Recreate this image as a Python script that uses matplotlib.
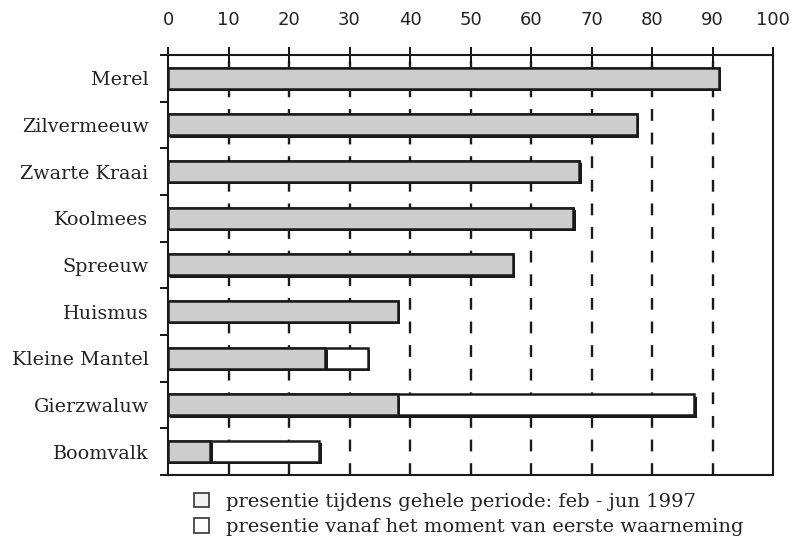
import matplotlib.pyplot as plt
import matplotlib.patheffects as pe
from matplotlib.patches import Rectangle
import numpy as np

# soorten, van boven naar beneden
soorten = ['Merel', 'Zilvermeeuw', 'Zwarte Kraai', 'Koolmees', 'Spreeuw',
           'Huismus', 'Kleine Mantel', 'Gierzwaluw', 'Boomvalk']
# presentie tijdens gehele periode (%)
gehele_periode = [91, 77.5, 68, 67, 57, 38, 26, 38, 7]
# presentie vanaf eerste waarneming (%)
vanaf_waarneming = [91, 77.5, 68, 67, 57, 38, 33, 87, 25]

x_ticks = list(range(0, 101, 10))
legenda = ['presentie tijdens gehele periode: feb - jun 1997',
           'presentie vanaf het moment van eerste waarneming']

serif = 'DejaVu Serif'
grijs = '#cdcdcd'
schaduw = [pe.SimplePatchShadow(offset=(1.6, -1.6), shadow_rgbFace='#1a1a1a', alpha=1),
           pe.Normal()]

fig = plt.figure(figsize=(7.93, 5.38), dpi=100)
ax = fig.add_axes([0.2119, 0.1171, 0.7629, 0.7807])

y = np.arange(len(soorten))
h = 0.45

b1 = ax.barh(y, vanaf_waarneming, height=h, color='white', edgecolor='#1a1a1a',
             linewidth=1.8, zorder=3)
b2 = ax.barh(y, gehele_periode, height=h, color=grijs, edgecolor='#1a1a1a',
             linewidth=1.8, zorder=4)
for b in list(b1) + list(b2):
    b.set_path_effects(schaduw)

# gestreepte rasterlijnen
for v in x_ticks[1:-1]:
    ax.axvline(v, color='#1a1a1a', lw=1.7, ls=(0, (5, 5)), zorder=1)

ax.set_xlim(0, 100)
ax.set_ylim(len(soorten) - 0.5, -0.5)

# x-as boven
ax.xaxis.tick_top()
ax.set_xticks(x_ticks)
ax.set_xticklabels([str(v) for v in x_ticks], fontsize=13, color='#222222')
ax.tick_params(axis='x', direction='inout', length=12, width=1.3, pad=13)

# onderkant: korte tickjes naar binnen
sec = ax.secondary_xaxis('bottom')
sec.set_xticks(x_ticks[1:-1])
sec.tick_params(direction='in', length=6, width=1.3, labelbottom=False)
sec.spines['bottom'].set_visible(False)

# y-as: tickjes op de grenzen, labels in het midden
ax.set_yticks(np.arange(-0.5, len(soorten), 1.0))
ax.set_yticklabels([])
ax.set_yticks(y, minor=True)
ax.set_yticklabels(soorten, minor=True, fontsize=13.8, family=serif, color='#222222')
ax.tick_params(axis='y', which='major', direction='out', length=6, width=1.3)
ax.tick_params(axis='y', which='minor', length=0, pad=14)

for s in ax.spines.values():
    s.set_linewidth(1.5)
    s.set_color('#1a1a1a')

handles = [Rectangle((0, 0), 1, 1, facecolor='#f2f2f2', edgecolor='#333333', lw=1.2),
           Rectangle((0, 0), 1, 1, facecolor='white', edgecolor='#333333', lw=1.2)]
fig.legend(handles, legenda, loc='upper left', bbox_to_anchor=(0.222, 0.117),
           frameon=False, handlelength=0.8, handleheight=0.8, handletextpad=0.85,
           labelspacing=0.38, prop={'family': serif, 'size': 14},
           labelcolor='#222222')

fig.savefig('out.png', dpi=100)
